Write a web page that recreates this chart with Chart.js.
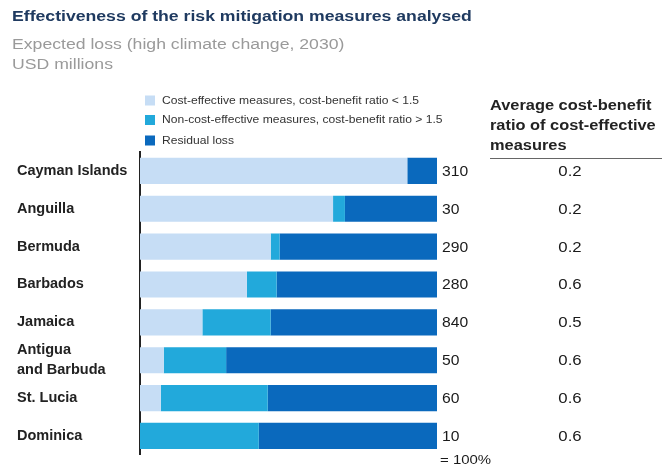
<!DOCTYPE html>
<html>
<head>
    <title>Effectiveness of the risk mitigation measures</title>
    <script src="https://cdn.jsdelivr.net/npm/chart.js"></script>
    <style>
        body {
            margin: 0;
            background: #fff;
            font-family: Arial, "Liberation Sans", sans-serif;
        }
        #wrap {
            position: relative;
            width: 668px;
            height: 465px;
            overflow: hidden;
        }
        .title, .sub {
            position: absolute;
            left: 12px;
            white-space: nowrap;
            transform-origin: left top;
            transform: scaleX(1.26);
        }
        .title {
            top: 8px;
            font-size: 14px;
            font-weight: bold;
            color: #1f3a60;
        }
        .sub {
            font-size: 14px;
            color: #9a9a9a;
        }
    </style>
</head>
<body>
<div id="wrap">
    <canvas id="chart" width="668" height="465"></canvas>
    <div class="title">Effectiveness of the risk mitigation measures analysed</div>
    <div class="sub" style="top:36px">Expected loss (high climate change, 2030)</div>
    <div class="sub" style="top:56px">USD millions</div>
</div>

<script>
    const countries = ['Cayman Islands', 'Anguilla', 'Bermuda', 'Barbados', 'Jamaica',
        ['Antigua', 'and Barbuda'], 'St. Lucia', 'Dominica'];
    // shares of the total expected loss, percent
    const costEffective = [90, 65, 44, 36, 21, 8, 7, 0];
    const nonCostEffective = [0, 4, 3, 10, 23, 21, 36, 40];
    const residualLoss = [10, 31, 53, 54, 56, 71, 57, 60];
    const totalLoss = ['310', '30', '290', '280', '840', '50', '60', '10'];
    const avgRatio = ['0.2', '0.2', '0.2', '0.6', '0.5', '0.6', '0.6', '0.6'];
    const seriesNames = ['Cost-effective measures, cost-benefit ratio < 1.5',
        'Non-cost-effective measures, cost-benefit ratio > 1.5',
        'Residual loss'];
    const colors = ['#c6ddf5', '#22a9db', '#0a69bd'];

    // the source picture is stretched sideways, so text gets a horizontal scale
    function stretchText(ctx, s, x, y, sx, align) {
        const w = ctx.measureText(s).width * sx;
        let left = x;
        if (align === 'center') left = x - w / 2;
        ctx.save();
        ctx.translate(left, y);
        ctx.scale(sx, 1);
        ctx.textAlign = 'left';
        ctx.fillText(s, 0, 0);
        ctx.restore();
    }

    // legend, totals and the ratio column
    const extras = {
        id: 'extras',
        afterDraw(chart) {
            const ctx = chart.ctx;
            const area = chart.chartArea;
            const yScale = chart.scales.y;
            ctx.save();
            ctx.textBaseline = 'middle';

            ctx.font = '11px Arial';
            [100.5, 120, 140.5].forEach((y, i) => {
                ctx.fillStyle = colors[i];
                ctx.fillRect(145, y - 5, 10, 10);
                ctx.fillStyle = '#333';
                stretchText(ctx, seriesNames[i], 162, y, 1.1);
            });

            ctx.font = 'bold 14px Arial';
            ctx.fillStyle = '#222';
            ['Average cost-benefit', 'ratio of cost-effective', 'measures'].forEach((t, i) => {
                stretchText(ctx, t, 490, 106 + i * 20, 1.17);
            });
            ctx.strokeStyle = '#666';
            ctx.lineWidth = 1;
            ctx.beginPath();
            ctx.moveTo(490, 158.5);
            ctx.lineTo(662, 158.5);
            ctx.stroke();

            countries.forEach((c, i) => {
                const y = yScale.getPixelForValue(i) + 1;
                ctx.font = '14px Arial';
                ctx.fillStyle = '#1a1a1a';
                stretchText(ctx, totalLoss[i], area.right + 5, y, 1.12);
                stretchText(ctx, avgRatio[i], 570, y, 1.2, 'center');
            });

            ctx.font = '13px Arial';
            ctx.textBaseline = 'alphabetic';
            stretchText(ctx, '= 100%', 440, 464, 1.15);
            ctx.restore();
        }
    };

    new Chart(document.getElementById('chart'), {
        type: 'bar',
        data: {
            labels: countries,
            datasets: [
                { label: seriesNames[0], data: costEffective, backgroundColor: colors[0] },
                { label: seriesNames[1], data: nonCostEffective, backgroundColor: colors[1] },
                { label: seriesNames[2], data: residualLoss, backgroundColor: colors[2] }
            ]
        },
        options: {
            indexAxis: 'y',
            responsive: false,
            animation: false,
            barPercentage: 0.69,
            categoryPercentage: 1,
            layout: { padding: { left: 17, top: 152, right: 231, bottom: 10 } },
            plugins: {
                legend: { display: false },
                tooltip: { enabled: false }
            },
            scales: {
                x: {
                    stacked: true,
                    display: false,
                    min: 0,
                    max: 100
                },
                y: {
                    stacked: true,
                    z: 1,
                    grid: { display: false, drawTicks: false },
                    border: { display: true, color: '#222', width: 2 },
                    ticks: {
                        autoSkip: false,
                        crossAlign: 'far',
                        padding: 0,
                        color: '#222',
                        font: { family: 'Arial', size: 14.5, weight: 'bold', lineHeight: 1.4 }
                    },
                    afterFit(scale) { scale.width = 123; }
                }
            }
        },
        plugins: [extras]
    });
</script>
</body>
</html>
